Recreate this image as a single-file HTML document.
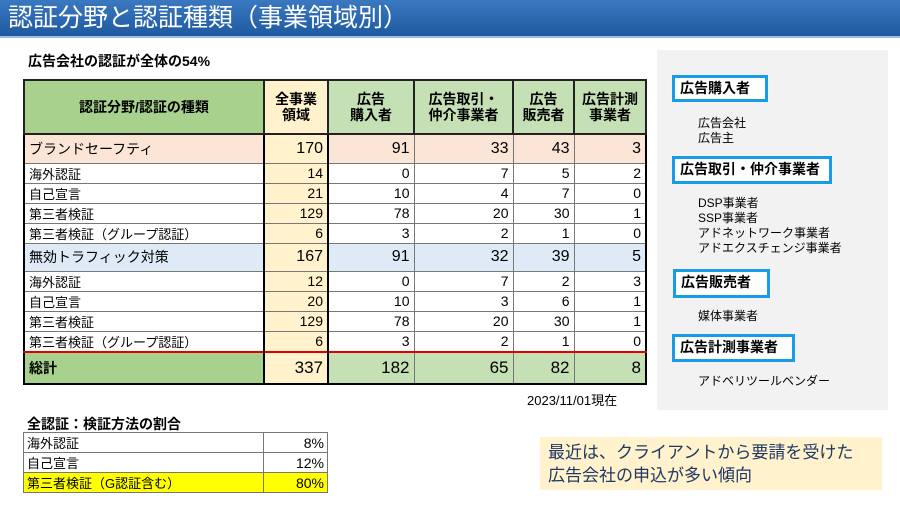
<!DOCTYPE html>
<html><head><meta charset="utf-8">
<style>
*{margin:0;padding:0;box-sizing:border-box}
body{width:900px;height:506px;background:#fff;position:relative;overflow:hidden;font-family:"Liberation Sans","Noto Sans CJK JP",sans-serif;color:#000}
.abs{position:absolute}
#title{left:0;top:0;width:900px;height:38px;background:linear-gradient(#3a78c0,#1f5aa0);color:#fff;font-size:25px;line-height:36px;padding-left:8px;border-bottom:2px solid #9cc0e6}
table{border-collapse:collapse;table-layout:fixed;position:absolute}
#main{left:23px;top:79px;width:622px;border:2px solid #000}
#main td{border:1px solid #777;font-size:13px;padding:0 4px;white-space:nowrap;overflow:hidden}
#main td.n{text-align:right;font-size:14px}
#main tr.hd td{background:#c5e0b4;text-align:center;line-height:16px;font-size:14px;font-weight:bold;border:2px solid #222}
#main tr.hd td.c0{background:#a9d18e}
#main td.c1{background:#fff2cc;border-left:2px solid #000;border-right:2px solid #000}
#main tr.bs td{background:#fbe5d6;font-size:14px}
#main tr.bs td.n{font-size:16px}
#main tr.iv td{background:#deebf7;font-size:14px}
#main tr.iv td.n{font-size:16px}
#main tr.tot td{background:#c5e0b4;font-size:14px;border-top:2px solid #e00000}
#main tr.tot td.n{font-size:17px}
#main tr.tot td.c0{background:#a9d18e;font-weight:bold}
#main tr.bs td.c1,#main tr.iv td.c1,#main tr.tot td.c1{background:#fff2cc}
#sub{left:23px;top:432px;width:304px;border:1px solid #555}
#sub td{border:1px solid #777;font-size:13px;padding:0 3px;height:20px}
#panel{left:657px;top:50px;width:231px;height:360px;background:#f2f2f2}
.box{position:absolute;border:3px solid #1a9be6;background:#fff;font-size:14px;line-height:21px;padding-left:5px;font-weight:bold}
.it{position:absolute;left:698px;font-size:12px;line-height:15px}
#note{left:540px;top:437px;width:342px;height:53px;background:#fff2cc;color:#1f3864;font-size:17px;line-height:23px;padding:4px 0 0 8px}
</style></head><body>
<div id="title" class="abs">認証分野と認証種類（事業領域別）</div>
<div class="abs" style="left:28px;top:51px;font-size:14px;font-weight:bold">広告会社の認証が全体の54%</div>

<table id="main">
<colgroup><col style="width:240px"><col style="width:64px"><col style="width:86px"><col style="width:99px"><col style="width:61px"><col style="width:72px"></colgroup>
<tr class="hd" style="height:54px"><td class="c0">認証分野/認証の種類</td><td class="c1" style="background:#fff2cc">全事業<br>領域</td><td>広告<br>購入者</td><td>広告取引・<br>仲介事業者</td><td>広告<br>販売者</td><td>広告計測<br>事業者</td></tr>
<tr class="bs" style="height:29px"><td class="c0">ブランドセーフティ</td><td class="n c1">170</td><td class="n">91</td><td class="n">33</td><td class="n">43</td><td class="n">3</td></tr>
<tr style="height:20px"><td>海外認証</td><td class="n c1">14</td><td class="n">0</td><td class="n">7</td><td class="n">5</td><td class="n">2</td></tr>
<tr style="height:20px"><td>自己宣言</td><td class="n c1">21</td><td class="n">10</td><td class="n">4</td><td class="n">7</td><td class="n">0</td></tr>
<tr style="height:20px"><td>第三者検証</td><td class="n c1">129</td><td class="n">78</td><td class="n">20</td><td class="n">30</td><td class="n">1</td></tr>
<tr style="height:20px"><td>第三者検証（グループ認証）</td><td class="n c1">6</td><td class="n">3</td><td class="n">2</td><td class="n">1</td><td class="n">0</td></tr>
<tr class="iv" style="height:28px"><td class="c0">無効トラフィック対策</td><td class="n c1">167</td><td class="n">91</td><td class="n">32</td><td class="n">39</td><td class="n">5</td></tr>
<tr style="height:20px"><td>海外認証</td><td class="n c1">12</td><td class="n">0</td><td class="n">7</td><td class="n">2</td><td class="n">3</td></tr>
<tr style="height:20px"><td>自己宣言</td><td class="n c1">20</td><td class="n">10</td><td class="n">3</td><td class="n">6</td><td class="n">1</td></tr>
<tr style="height:20px"><td>第三者検証</td><td class="n c1">129</td><td class="n">78</td><td class="n">20</td><td class="n">30</td><td class="n">1</td></tr>
<tr style="height:20px"><td>第三者検証（グループ認証）</td><td class="n c1">6</td><td class="n">3</td><td class="n">2</td><td class="n">1</td><td class="n">0</td></tr>
<tr class="tot" style="height:32px"><td class="c0">総計</td><td class="n c1">337</td><td class="n">182</td><td class="n">65</td><td class="n">82</td><td class="n">8</td></tr>
</table>
<div class="abs" style="left:527px;top:390px;font-size:13px">2023/11/01現在</div>

<div class="abs" style="left:27px;top:414px;font-size:14px;font-weight:bold">全認証：検証方法の割合</div>
<table id="sub">
<colgroup><col style="width:240px"><col style="width:64px"></colgroup>
<tr><td>海外認証</td><td style="text-align:right;font-size:14px">8%</td></tr>
<tr><td>自己宣言</td><td style="text-align:right;font-size:14px">12%</td></tr>
<tr style="background:#ffff00"><td>第三者検証（G認証含む）</td><td style="text-align:right;font-size:14px">80%</td></tr>
</table>

<div id="panel" class="abs"></div>
<div class="box" style="left:672px;top:75px;width:96px;height:27px">広告購入者</div>
<div class="it" style="top:116px">広告会社<br>広告主</div>
<div class="box" style="left:672px;top:156px;width:160px;height:28px">広告取引・仲介事業者</div>
<div class="it" style="top:196px">DSP事業者<br>SSP事業者<br>アドネットワーク事業者<br>アドエクスチェンジ事業者</div>
<div class="box" style="left:673px;top:269px;width:97px;height:29px">広告販売者</div>
<div class="it" style="top:309px">媒体事業者</div>
<div class="box" style="left:672px;top:334px;width:123px;height:28px">広告計測事業者</div>
<div class="it" style="top:374px">アドベリツールベンダー</div>

<div id="note" class="abs">最近は、クライアントから要請を受けた<br>広告会社の申込が多い傾向</div>
</body></html>
